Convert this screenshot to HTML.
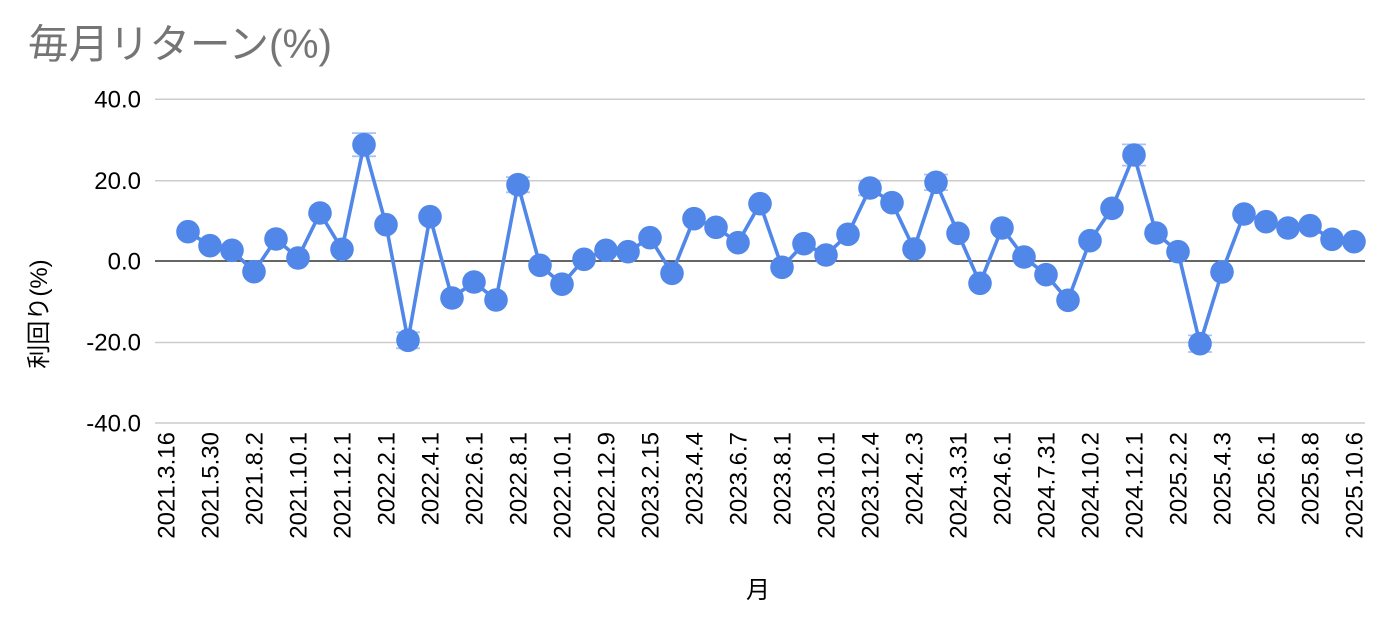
<!DOCTYPE html>
<html>
<head>
<meta charset="utf-8">
<style>
  html, body { margin: 0; padding: 0; background: #fff; }
  svg { display: block; }
  text { font-family: "Liberation Sans", "Noto Sans CJK JP", sans-serif; }
</style>
</head>
<body>
<svg width="1390" height="630" viewBox="0 0 1390 630" xmlns="http://www.w3.org/2000/svg">
  <rect width="1390" height="630" fill="#fff"/>
  <!-- title -->
  <text x="28" y="58" font-size="40.5" fill="#757575">毎月リターン(%)</text>

  <!-- gridlines -->
  <g stroke="#cccccc" stroke-width="1.5">
    <line x1="155" y1="99.3" x2="1365" y2="99.3"/>
    <line x1="155" y1="180.7" x2="1365" y2="180.7"/>
    <line x1="155" y1="342.5" x2="1365" y2="342.5"/>
    <line x1="155" y1="423" x2="1365" y2="423"/>
  </g>
  <line x1="155" y1="261" x2="1365" y2="261" stroke="#333" stroke-width="1.6"/>

  <!-- y tick labels -->
  <g font-size="24" fill="#000" text-anchor="end">
    <text x="141" y="107.5">40.0</text>
    <text x="141" y="189">20.0</text>
    <text x="141" y="269.5">0.0</text>
    <text x="141" y="350.5">-20.0</text>
    <text x="141" y="431.5">-40.0</text>
  </g>

  <!-- y axis title -->
  <text transform="translate(47,314) rotate(-90)" font-size="24" fill="#000" text-anchor="middle">利回り(%)</text>

  <!-- x axis title -->
  <text x="758" y="598" font-size="24" fill="#000" text-anchor="middle">月</text>

  <!-- x tick labels -->
  <g font-size="24" fill="#000" text-anchor="end">
    <text transform="translate(174.5,432) rotate(-90)">2021.3.16</text>
    <text transform="translate(218.5,432) rotate(-90)">2021.5.30</text>
    <text transform="translate(262.5,432) rotate(-90)">2021.8.2</text>
    <text transform="translate(306.5,432) rotate(-90)">2021.10.1</text>
    <text transform="translate(350.5,432) rotate(-90)">2021.12.1</text>
    <text transform="translate(394.5,432) rotate(-90)">2022.2.1</text>
    <text transform="translate(438.5,432) rotate(-90)">2022.4.1</text>
    <text transform="translate(482.5,432) rotate(-90)">2022.6.1</text>
    <text transform="translate(526.5,432) rotate(-90)">2022.8.1</text>
    <text transform="translate(570.5,432) rotate(-90)">2022.10.1</text>
    <text transform="translate(614.5,432) rotate(-90)">2022.12.9</text>
    <text transform="translate(658.5,432) rotate(-90)">2023.2.15</text>
    <text transform="translate(702.5,432) rotate(-90)">2023.4.4</text>
    <text transform="translate(746.5,432) rotate(-90)">2023.6.7</text>
    <text transform="translate(790.5,432) rotate(-90)">2023.8.1</text>
    <text transform="translate(834.5,432) rotate(-90)">2023.10.1</text>
    <text transform="translate(878.5,432) rotate(-90)">2023.12.4</text>
    <text transform="translate(922.5,432) rotate(-90)">2024.2.3</text>
    <text transform="translate(966.5,432) rotate(-90)">2024.3.31</text>
    <text transform="translate(1010.5,432) rotate(-90)">2024.6.1</text>
    <text transform="translate(1054.5,432) rotate(-90)">2024.7.31</text>
    <text transform="translate(1098.5,432) rotate(-90)">2024.10.2</text>
    <text transform="translate(1142.5,432) rotate(-90)">2024.12.1</text>
    <text transform="translate(1186.5,432) rotate(-90)">2025.2.2</text>
    <text transform="translate(1230.5,432) rotate(-90)">2025.4.3</text>
    <text transform="translate(1274.5,432) rotate(-90)">2025.6.1</text>
    <text transform="translate(1318.5,432) rotate(-90)">2025.8.8</text>
    <text transform="translate(1362.5,432) rotate(-90)">2025.10.6</text>
  </g>

  <!-- error bars -->
  <g stroke="#a9c3f3" stroke-width="1.8" fill="none">
    <path d="M352,133.1 H376 M352,156.3 H376 M364,133.1 V156.3"/>
    <path d="M396,332.3 H420 M396,348.3 H420 M408,332.3 V348.3"/>
    <path d="M506,177.1 H530 M506,192.3 H530 M518,177.1 V192.3"/>
    <path d="M858,180.7 H882 M858,195.3 H882 M870,180.7 V195.3"/>
    <path d="M924,174.5 H948 M924,190.1 H948 M936,174.5 V190.1"/>
    <path d="M1122,144.4 H1146 M1122,165.6 H1146 M1134,144.4 V165.6"/>
    <path d="M1188,335.4 H1212 M1188,352 H1212 M1200,335.4 V352"/>
  </g>

  <!-- series line -->
  <polyline fill="none" stroke="#5087e8" stroke-width="3.6" stroke-linejoin="round"
    points="188,231.7 210,245.7 232,250.3 254,271.7 276,239 298,258 320,213 342,249.3 364,144.7 386,224.7 408,340.3 430,216.7 452,298 474,282 496,300 518,184.7 540,265.3 562,284.2 584,259.3 606,250.3 628,251.7 650,237.7 672,273.3 694,218.7 716,227.3 738,242.7 760,203.7 782,267.3 804,243.7 826,255 848,234.3 870,188 892,202.7 914,249 936,182.3 958,233.3 980,283.3 1002,228 1024,257 1046,274.7 1068,300.3 1090,240.7 1112,208.3 1134,155 1156,233 1178,251.7 1200,343.7 1222,272 1244,214 1266,221.7 1288,228 1310,225.7 1332,239.3 1354,241.7"/>

  <!-- points -->
  <g fill="#5087e8">
    <circle cx="188" cy="231.7" r="11.8"/>
    <circle cx="210" cy="245.7" r="11.8"/>
    <circle cx="232" cy="250.3" r="11.8"/>
    <circle cx="254" cy="271.7" r="11.8"/>
    <circle cx="276" cy="239" r="11.8"/>
    <circle cx="298" cy="258" r="11.8"/>
    <circle cx="320" cy="213" r="11.8"/>
    <circle cx="342" cy="249.3" r="11.8"/>
    <circle cx="364" cy="144.7" r="11.8"/>
    <circle cx="386" cy="224.7" r="11.8"/>
    <circle cx="408" cy="340.3" r="11.8"/>
    <circle cx="430" cy="216.7" r="11.8"/>
    <circle cx="452" cy="298" r="11.8"/>
    <circle cx="474" cy="282" r="11.8"/>
    <circle cx="496" cy="300" r="11.8"/>
    <circle cx="518" cy="184.7" r="11.8"/>
    <circle cx="540" cy="265.3" r="11.8"/>
    <circle cx="562" cy="284.2" r="11.8"/>
    <circle cx="584" cy="259.3" r="11.8"/>
    <circle cx="606" cy="250.3" r="11.8"/>
    <circle cx="628" cy="251.7" r="11.8"/>
    <circle cx="650" cy="237.7" r="11.8"/>
    <circle cx="672" cy="273.3" r="11.8"/>
    <circle cx="694" cy="218.7" r="11.8"/>
    <circle cx="716" cy="227.3" r="11.8"/>
    <circle cx="738" cy="242.7" r="11.8"/>
    <circle cx="760" cy="203.7" r="11.8"/>
    <circle cx="782" cy="267.3" r="11.8"/>
    <circle cx="804" cy="243.7" r="11.8"/>
    <circle cx="826" cy="255" r="11.8"/>
    <circle cx="848" cy="234.3" r="11.8"/>
    <circle cx="870" cy="188" r="11.8"/>
    <circle cx="892" cy="202.7" r="11.8"/>
    <circle cx="914" cy="249" r="11.8"/>
    <circle cx="936" cy="182.3" r="11.8"/>
    <circle cx="958" cy="233.3" r="11.8"/>
    <circle cx="980" cy="283.3" r="11.8"/>
    <circle cx="1002" cy="228" r="11.8"/>
    <circle cx="1024" cy="257" r="11.8"/>
    <circle cx="1046" cy="274.7" r="11.8"/>
    <circle cx="1068" cy="300.3" r="11.8"/>
    <circle cx="1090" cy="240.7" r="11.8"/>
    <circle cx="1112" cy="208.3" r="11.8"/>
    <circle cx="1134" cy="155" r="11.8"/>
    <circle cx="1156" cy="233" r="11.8"/>
    <circle cx="1178" cy="251.7" r="11.8"/>
    <circle cx="1200" cy="343.7" r="11.8"/>
    <circle cx="1222" cy="272" r="11.8"/>
    <circle cx="1244" cy="214" r="11.8"/>
    <circle cx="1266" cy="221.7" r="11.8"/>
    <circle cx="1288" cy="228" r="11.8"/>
    <circle cx="1310" cy="225.7" r="11.8"/>
    <circle cx="1332" cy="239.3" r="11.8"/>
    <circle cx="1354" cy="241.7" r="11.8"/>
  </g>
</svg>
</body>
</html>
